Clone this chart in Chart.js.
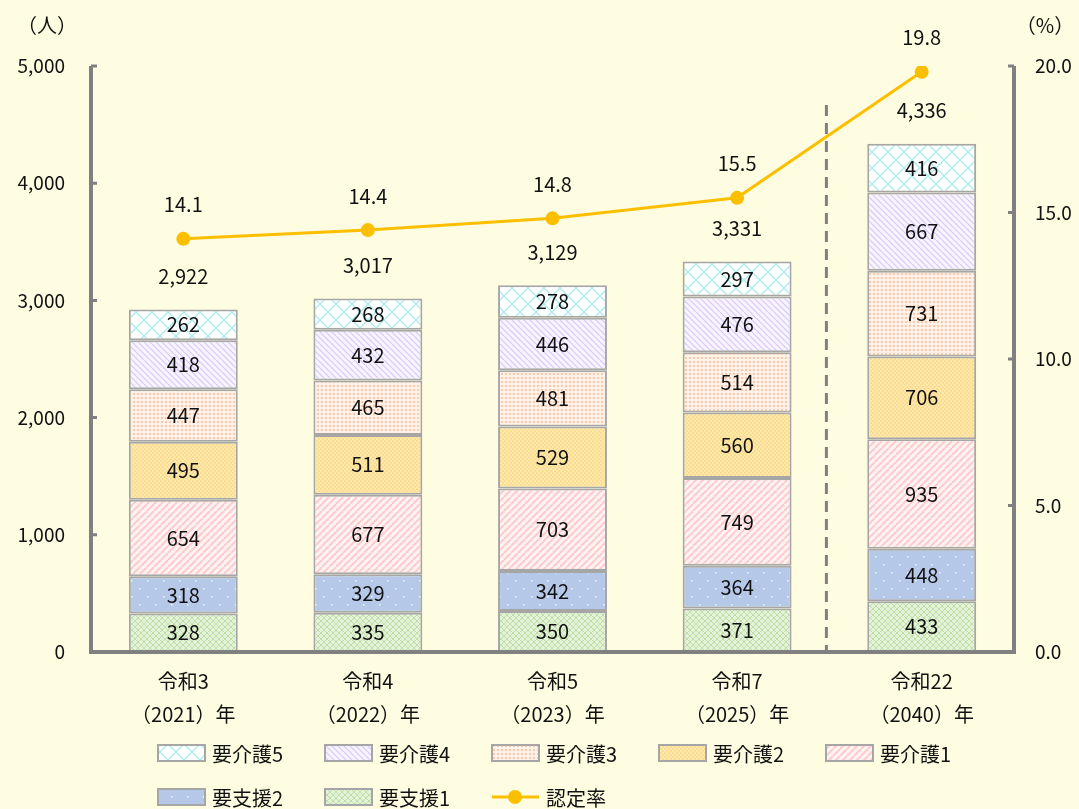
<!DOCTYPE html>
<html>
<head>
<meta charset="utf-8">
<script src="https://cdn.jsdelivr.net/npm/chart.js@4"></script>
<style>
  html, body { margin: 0; padding: 0; background: #fefde2; }
  #wrap { width: 1079px; height: 809px; position: relative; }
</style>
</head>
<body>
<div id="wrap"><canvas id="chart1"></canvas></div>
<script>
// data
var categories = [['令和3', '（2021）年'], ['令和4', '（2022）年'], ['令和5', '（2023）年'], ['令和7', '（2025）年'], ['令和22', '（2040）年']];
var shien1 = [328, 335, 350, 371, 433];
var shien2 = [318, 329, 342, 364, 448];
var kaigo1 = [654, 677, 703, 749, 935];
var kaigo2 = [495, 511, 529, 560, 706];
var kaigo3 = [447, 465, 481, 514, 731];
var kaigo4 = [418, 432, 446, 476, 667];
var kaigo5 = [262, 268, 278, 297, 416];
var totals = [2922, 3017, 3129, 3331, 4336];
var rate = [14.1, 14.4, 14.8, 15.5, 19.8];

var FONT = '"Noto Sans CJK JP", "Noto Sans", sans-serif';
var AXIS = '#808080';

/* patterns */
function makePattern(size, bg, draw) {
    var c = document.createElement('canvas');
    c.width = size; c.height = size;
    var g = c.getContext('2d');
    g.fillStyle = bg;
    g.fillRect(0, 0, size, size);
    draw(g, size);
    return g.createPattern(c, 'repeat');
}
var pKaigo5 = makePattern(16, '#fcfffe', function (g, s) {
    g.strokeStyle = '#ade9ee'; g.lineWidth = 1.3;
    g.beginPath();
    g.moveTo(0, 0); g.lineTo(s, s);
    g.moveTo(s, 0); g.lineTo(0, s);
    g.stroke();
});
var pKaigo4 = makePattern(6, '#f8f4ff', function (g, s) {
    g.strokeStyle = '#d6c7f7'; g.lineWidth = 1.2;
    g.beginPath();
    for (var k = -1; k <= 1; k++) { g.moveTo(k * s, 0); g.lineTo(k * s + s, s); }
    g.stroke();
});
var pKaigo3 = makePattern(4, '#fdf1e8', function (g) {
    g.fillStyle = '#f9c9ae';
    g.fillRect(1, 1, 2, 2);
});
var pKaigo2 = makePattern(4, '#fde9ad', function (g) {
    g.fillStyle = '#fcdc8e';
    g.fillRect(0, 0, 2, 2);
    g.fillRect(2, 2, 2, 2);
});
var pKaigo1 = makePattern(7, '#fff2f2', function (g, s) {
    g.strokeStyle = '#fccbcb'; g.lineWidth = 2;
    g.beginPath();
    for (var k = -1; k <= 1; k++) { g.moveTo(k * s, s); g.lineTo(k * s + s, 0); }
    g.stroke();
});
var pShien2 = makePattern(16, '#b5c8e8', function (g) {
    g.fillStyle = '#f4f7fc';
    g.fillRect(3, 4, 1.5, 1.5);
    g.fillRect(11, 12, 1.5, 1.5);
});
var pShien1 = makePattern(6, '#e3f2d8', function (g, s) {
    g.strokeStyle = '#bddfa6'; g.lineWidth = 1;
    g.beginPath();
    g.moveTo(0, 0); g.lineTo(s, s);
    g.moveTo(s, 0); g.lineTo(0, s);
    g.stroke();
});

function barSet(label, data, pattern) {
    return {
        type: 'bar', label: label, data: data, yAxisID: 'y',
        backgroundColor: pattern, borderColor: '#a6a6a6', borderWidth: 2,
        borderSkipped: false, barPercentage: 0.59, categoryPercentage: 1
    };
}

var legendItems = [
    ['要介護5', pKaigo5], ['要介護4', pKaigo4], ['要介護3', pKaigo3], ['要介護2', pKaigo2], ['要介護1', pKaigo1],
    ['要支援2', pShien2], ['要支援1', pShien1], ['認定率', null]
];

var extras = {
    id: 'extras',
    afterDatasetsDraw: function (chart) {
        var ctx = chart.ctx, a = chart.chartArea;
        var x = chart.scales.x, y = chart.scales.y, y1 = chart.scales.y1;
        ctx.save();
        // dashed separator
        var xd = (x.getPixelForValue(3) + x.getPixelForValue(4)) / 2 - 3;
        ctx.strokeStyle = AXIS; ctx.lineWidth = 3; ctx.setLineDash([11, 7]);
        ctx.beginPath(); ctx.moveTo(xd, 105); ctx.lineTo(xd, a.bottom); ctx.stroke();
        ctx.setLineDash([]);
        // axis lines
        ctx.lineWidth = 4; ctx.strokeStyle = AXIS;
        ctx.beginPath();
        ctx.moveTo(a.left, a.top); ctx.lineTo(a.left, a.bottom); ctx.lineTo(a.right, a.bottom); ctx.lineTo(a.right, a.top);
        ctx.stroke();
        ctx.lineWidth = 3;
        ctx.beginPath();
        y.ticks.forEach(function (t) {
            if (t.value === 0) return;
            var py = y.getPixelForValue(t.value);
            ctx.moveTo(a.left, py); ctx.lineTo(a.left + 6, py);
        });
        y1.ticks.forEach(function (t) {
            if (t.value === 0) return;
            var py = y1.getPixelForValue(t.value);
            ctx.moveTo(a.right, py); ctx.lineTo(a.right - 6, py);
        });
        ctx.stroke();

        // value labels in segments
        ctx.fillStyle = '#111';
        ctx.textAlign = 'center'; ctx.textBaseline = 'middle';
        ctx.font = '20px ' + FONT;
        chart.data.datasets.forEach(function (ds, i) {
            if (ds.type !== 'bar') return;
            chart.getDatasetMeta(i).data.forEach(function (el, j) {
                ctx.fillText(String(ds.data[j]), el.x, (el.y + el.base) / 2);
            });
        });
        // totals above bars
        var topIdx = chart.data.datasets.length - 1;
        chart.getDatasetMeta(topIdx).data.forEach(function (el, j) {
            ctx.fillText(totals[j].toLocaleString('en-US'), el.x, el.y - 33);
        });
        // rate labels
        chart.getDatasetMeta(0).data.forEach(function (el, j) {
            ctx.fillText(rate[j].toFixed(1), el.x, el.y - 34);
        });

        // axis titles
        ctx.font = '20px ' + FONT;
        ctx.fillText('（人）', 47, 25);
        ctx.fillText('（%）', 1045, 25);

        // legend
        ctx.font = '20px ' + FONT;
        ctx.textAlign = 'left';
        legendItems.forEach(function (it, k) {
            var row = k < 5 ? 0 : 1, col = k < 5 ? k : k - 5;
            var lx = 158 + col * 167, ly = row === 0 ? 753 : 797;
            if (it[1]) {
                ctx.fillStyle = it[1];
                ctx.fillRect(lx, ly - 8, 47, 16);
                ctx.strokeStyle = '#a6a6a6'; ctx.lineWidth = 2;
                ctx.strokeRect(lx, ly - 8, 47, 16);
            } else {
                ctx.strokeStyle = '#fcbf00'; ctx.lineWidth = 3;
                ctx.beginPath(); ctx.moveTo(lx, ly); ctx.lineTo(lx + 47, ly); ctx.stroke();
                ctx.fillStyle = '#fcbf00';
                ctx.beginPath(); ctx.arc(lx + 23, ly, 7, 0, Math.PI * 2); ctx.fill();
            }
            ctx.fillStyle = '#111';
            ctx.fillText(it[0], lx + 54, ly + 1);
        });
        ctx.restore();
    }
};

var ctx = document.getElementById('chart1').getContext('2d');
var chart1 = new Chart(ctx, {
    data: {
        labels: categories,
        datasets: [
            {
                type: 'line', label: '認定率', data: rate, yAxisID: 'y1',
                borderColor: '#fcbf00', backgroundColor: '#fcbf00', borderWidth: 3,
                pointRadius: 7, pointBorderWidth: 0, pointBackgroundColor: '#fcbf00'
            },
            barSet('要支援1', shien1, pShien1),
            barSet('要支援2', shien2, pShien2),
            barSet('要介護1', kaigo1, pKaigo1),
            barSet('要介護2', kaigo2, pKaigo2),
            barSet('要介護3', kaigo3, pKaigo3),
            barSet('要介護4', kaigo4, pKaigo4),
            barSet('要介護5', kaigo5, pKaigo5)
        ]
    },
    options: {
        responsive: true,
        maintainAspectRatio: false,
        animation: false,
        layout: { padding: { top: 66, left: 0, right: 0, bottom: 0 } },
        plugins: {
            legend: { display: false },
            tooltip: { enabled: false }
        },
        scales: {
            x: {
                stacked: true,
                grid: { display: false, drawTicks: false },
                border: { display: false },
                ticks: { color: '#111', font: { size: 20, family: FONT, lineHeight: 1.65 }, padding: 13, maxRotation: 0 },
                afterFit: function (s) { s.height = 157; }
            },
            y: {
                stacked: true, position: 'left', min: 0, max: 5000,
                grid: { display: false, drawTicks: false },
                border: { display: false },
                ticks: {
                    stepSize: 1000, color: '#111', padding: 26,
                    font: { size: 19, family: FONT },
                    callback: function (v) { return v.toLocaleString('en-US'); }
                },
                afterFit: function (s) { s.width = 91; }
            },
            y1: {
                position: 'right', min: 0, max: 20,
                grid: { display: false, drawTicks: false },
                border: { display: false },
                ticks: {
                    stepSize: 5, color: '#111', padding: 21,
                    font: { size: 19, family: FONT },
                    callback: function (v) { return v.toFixed(1); }
                },
                afterFit: function (s) { s.width = 65; }
            }
        }
    },
    plugins: [extras]
});
</script>
</body>
</html>
